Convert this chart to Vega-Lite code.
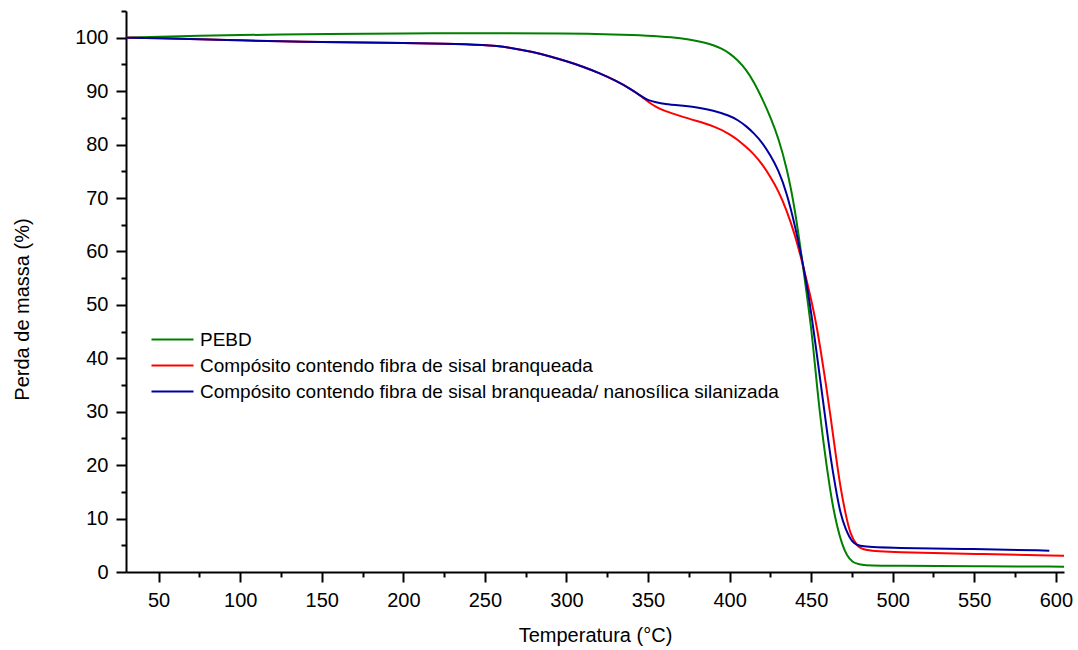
{
  "$schema": "https://vega.github.io/schema/vega-lite/v6.json",
  "width": 938,
  "height": 561,
  "autosize": {"type": "none"},
  "padding": {"left": 126, "top": 11, "right": 14, "bottom": 78},
  "background": "white",
  "config": {"view": {"stroke": null}, "font": "Liberation Sans"},
  "data": {"values": [
    {"s":"PEBD","T":30,"M":100.0},{"s":"PEBD","T":50,"M":100.2},{"s":"PEBD","T":75,"M":100.35},{"s":"PEBD","T":100,"M":100.5},{"s":"PEBD","T":125,"M":100.6},{"s":"PEBD","T":150,"M":100.7},{"s":"PEBD","T":200,"M":100.8},{"s":"PEBD","T":250,"M":100.85},{"s":"PEBD","T":300,"M":100.8},{"s":"PEBD","T":330,"M":100.6},{"s":"PEBD","T":350,"M":100.4},{"s":"PEBD","T":365,"M":100.1},{"s":"PEBD","T":375,"M":99.7},{"s":"PEBD","T":385,"M":99.1},{"s":"PEBD","T":390,"M":98.6},{"s":"PEBD","T":395,"M":98.0},{"s":"PEBD","T":400,"M":97.1},{"s":"PEBD","T":405,"M":95.8},{"s":"PEBD","T":410,"M":94.1},{"s":"PEBD","T":415,"M":91.7},{"s":"PEBD","T":420,"M":88.6},{"s":"PEBD","T":425,"M":85.2},{"s":"PEBD","T":430,"M":81.2},{"s":"PEBD","T":435,"M":75.7},{"s":"PEBD","T":440,"M":68.2},{"s":"PEBD","T":445,"M":57.2},{"s":"PEBD","T":447,"M":52.7},{"s":"PEBD","T":450,"M":45.8},{"s":"PEBD","T":452,"M":39.8},{"s":"PEBD","T":455,"M":30.5},{"s":"PEBD","T":458,"M":23.2},{"s":"PEBD","T":460,"M":18.8},{"s":"PEBD","T":463,"M":12.7},{"s":"PEBD","T":466,"M":8.4},{"s":"PEBD","T":469,"M":5.1},{"s":"PEBD","T":472,"M":3.0},{"s":"PEBD","T":475,"M":1.9},{"s":"PEBD","T":480,"M":1.2},{"s":"PEBD","T":500,"M":1.15},{"s":"PEBD","T":550,"M":1.1},{"s":"PEBD","T":605,"M":1.0},
    {"s":"Compósito contendo fibra de sisal branqueada","T":30,"M":100.0},{"s":"Compósito contendo fibra de sisal branqueada","T":50,"M":99.9},{"s":"Compósito contendo fibra de sisal branqueada","T":75,"M":99.75},{"s":"Compósito contendo fibra de sisal branqueada","T":100,"M":99.5},{"s":"Compósito contendo fibra de sisal branqueada","T":125,"M":99.3},{"s":"Compósito contendo fibra de sisal branqueada","T":150,"M":99.2},{"s":"Compósito contendo fibra de sisal branqueada","T":175,"M":99.1},{"s":"Compósito contendo fibra de sisal branqueada","T":200,"M":99.0},{"s":"Compósito contendo fibra de sisal branqueada","T":225,"M":98.9},{"s":"Compósito contendo fibra de sisal branqueada","T":250,"M":98.65},{"s":"Compósito contendo fibra de sisal branqueada","T":265,"M":98.2},{"s":"Compósito contendo fibra de sisal branqueada","T":280,"M":97.3},{"s":"Compósito contendo fibra de sisal branqueada","T":290,"M":96.5},{"s":"Compósito contendo fibra de sisal branqueada","T":300,"M":95.6},{"s":"Compósito contendo fibra de sisal branqueada","T":310,"M":94.6},{"s":"Compósito contendo fibra de sisal branqueada","T":320,"M":93.4},{"s":"Compósito contendo fibra de sisal branqueada","T":330,"M":92.0},{"s":"Compósito contendo fibra de sisal branqueada","T":340,"M":90.3},{"s":"Compósito contendo fibra de sisal branqueada","T":347,"M":88.8},
    {"s":"Compósito contendo fibra de sisal branqueada","T":350,"M":88.0},{"s":"Compósito contendo fibra de sisal branqueada","T":355,"M":87.0},{"s":"Compósito contendo fibra de sisal branqueada","T":360,"M":86.3},{"s":"Compósito contendo fibra de sisal branqueada","T":370,"M":85.3},{"s":"Compósito contendo fibra de sisal branqueada","T":380,"M":84.4},{"s":"Compósito contendo fibra de sisal branqueada","T":390,"M":83.5},{"s":"Compósito contendo fibra de sisal branqueada","T":400,"M":82.0},{"s":"Compósito contendo fibra de sisal branqueada","T":405,"M":80.9},{"s":"Compósito contendo fibra de sisal branqueada","T":410,"M":79.6},{"s":"Compósito contendo fibra de sisal branqueada","T":415,"M":78.2},{"s":"Compósito contendo fibra de sisal branqueada","T":420,"M":76.3},{"s":"Compósito contendo fibra de sisal branqueada","T":425,"M":74.0},{"s":"Compósito contendo fibra de sisal branqueada","T":430,"M":71.3},{"s":"Compósito contendo fibra de sisal branqueada","T":435,"M":67.7},{"s":"Compósito contendo fibra de sisal branqueada","T":440,"M":63.2},{"s":"Compósito contendo fibra de sisal branqueada","T":445,"M":57.5},{"s":"Compósito contendo fibra de sisal branqueada","T":450,"M":51.0},{"s":"Compósito contendo fibra de sisal branqueada","T":453,"M":46.7},{"s":"Compósito contendo fibra de sisal branqueada","T":456,"M":41.2},{"s":"Compósito contendo fibra de sisal branqueada","T":459,"M":35.3},{"s":"Compósito contendo fibra de sisal branqueada","T":462,"M":28.9},{"s":"Compósito contendo fibra de sisal branqueada","T":465,"M":22.1},{"s":"Compósito contendo fibra de sisal branqueada","T":468,"M":15.7},{"s":"Compósito contendo fibra de sisal branqueada","T":471,"M":11.0},{"s":"Compósito contendo fibra de sisal branqueada","T":474,"M":7.0},{"s":"Compósito contendo fibra de sisal branqueada","T":478,"M":4.9},{"s":"Compósito contendo fibra de sisal branqueada","T":482,"M":4.0},{"s":"Compósito contendo fibra de sisal branqueada","T":500,"M":3.7},{"s":"Compósito contendo fibra de sisal branqueada","T":550,"M":3.4},{"s":"Compósito contendo fibra de sisal branqueada","T":605,"M":3.05},
    {"s":"Compósito contendo fibra de sisal branqueada/ nanosílica silanizada","T":30,"M":100.0},{"s":"Compósito contendo fibra de sisal branqueada/ nanosílica silanizada","T":50,"M":99.9},{"s":"Compósito contendo fibra de sisal branqueada/ nanosílica silanizada","T":75,"M":99.75},{"s":"Compósito contendo fibra de sisal branqueada/ nanosílica silanizada","T":100,"M":99.5},{"s":"Compósito contendo fibra de sisal branqueada/ nanosílica silanizada","T":125,"M":99.3},{"s":"Compósito contendo fibra de sisal branqueada/ nanosílica silanizada","T":150,"M":99.2},{"s":"Compósito contendo fibra de sisal branqueada/ nanosílica silanizada","T":175,"M":99.1},{"s":"Compósito contendo fibra de sisal branqueada/ nanosílica silanizada","T":200,"M":99.0},{"s":"Compósito contendo fibra de sisal branqueada/ nanosílica silanizada","T":225,"M":98.9},{"s":"Compósito contendo fibra de sisal branqueada/ nanosílica silanizada","T":250,"M":98.65},{"s":"Compósito contendo fibra de sisal branqueada/ nanosílica silanizada","T":265,"M":98.2},{"s":"Compósito contendo fibra de sisal branqueada/ nanosílica silanizada","T":280,"M":97.3},{"s":"Compósito contendo fibra de sisal branqueada/ nanosílica silanizada","T":290,"M":96.5},{"s":"Compósito contendo fibra de sisal branqueada/ nanosílica silanizada","T":300,"M":95.6},{"s":"Compósito contendo fibra de sisal branqueada/ nanosílica silanizada","T":310,"M":94.6},{"s":"Compósito contendo fibra de sisal branqueada/ nanosílica silanizada","T":320,"M":93.4},{"s":"Compósito contendo fibra de sisal branqueada/ nanosílica silanizada","T":330,"M":92.0},{"s":"Compósito contendo fibra de sisal branqueada/ nanosílica silanizada","T":340,"M":90.3},{"s":"Compósito contendo fibra de sisal branqueada/ nanosílica silanizada","T":347,"M":88.8},
    {"s":"Compósito contendo fibra de sisal branqueada/ nanosílica silanizada","T":350,"M":88.3},{"s":"Compósito contendo fibra de sisal branqueada/ nanosílica silanizada","T":355,"M":87.9},{"s":"Compósito contendo fibra de sisal branqueada/ nanosílica silanizada","T":360,"M":87.6},{"s":"Compósito contendo fibra de sisal branqueada/ nanosílica silanizada","T":370,"M":87.3},{"s":"Compósito contendo fibra de sisal branqueada/ nanosílica silanizada","T":380,"M":87.0},{"s":"Compósito contendo fibra de sisal branqueada/ nanosílica silanizada","T":390,"M":86.4},{"s":"Compósito contendo fibra de sisal branqueada/ nanosílica silanizada","T":400,"M":85.4},{"s":"Compósito contendo fibra de sisal branqueada/ nanosílica silanizada","T":405,"M":84.6},{"s":"Compósito contendo fibra de sisal branqueada/ nanosílica silanizada","T":410,"M":83.5},{"s":"Compósito contendo fibra de sisal branqueada/ nanosílica silanizada","T":415,"M":82.1},{"s":"Compósito contendo fibra de sisal branqueada/ nanosílica silanizada","T":420,"M":80.4},{"s":"Compósito contendo fibra de sisal branqueada/ nanosílica silanizada","T":425,"M":78.0},{"s":"Compósito contendo fibra de sisal branqueada/ nanosílica silanizada","T":430,"M":75.2},{"s":"Compósito contendo fibra de sisal branqueada/ nanosílica silanizada","T":435,"M":71.0},{"s":"Compósito contendo fibra de sisal branqueada/ nanosílica silanizada","T":440,"M":65.0},{"s":"Compósito contendo fibra de sisal branqueada/ nanosílica silanizada","T":445,"M":57.7},{"s":"Compósito contendo fibra de sisal branqueada/ nanosílica silanizada","T":448,"M":52.5},{"s":"Compósito contendo fibra de sisal branqueada/ nanosílica silanizada","T":450,"M":48.6},{"s":"Compósito contendo fibra de sisal branqueada/ nanosílica silanizada","T":453,"M":41.9},{"s":"Compósito contendo fibra de sisal branqueada/ nanosílica silanizada","T":456,"M":35.0},{"s":"Compósito contendo fibra de sisal branqueada/ nanosílica silanizada","T":459,"M":28.0},{"s":"Compósito contendo fibra de sisal branqueada/ nanosílica silanizada","T":462,"M":21.2},{"s":"Compósito contendo fibra de sisal branqueada/ nanosílica silanizada","T":465,"M":15.7},{"s":"Compósito contendo fibra de sisal branqueada/ nanosílica silanizada","T":468,"M":10.8},{"s":"Compósito contendo fibra de sisal branqueada/ nanosílica silanizada","T":471,"M":8.1},{"s":"Compósito contendo fibra de sisal branqueada/ nanosílica silanizada","T":475,"M":5.5},{"s":"Compósito contendo fibra de sisal branqueada/ nanosílica silanizada","T":480,"M":4.7},{"s":"Compósito contendo fibra de sisal branqueada/ nanosílica silanizada","T":500,"M":4.5},{"s":"Compósito contendo fibra de sisal branqueada/ nanosílica silanizada","T":550,"M":4.3},{"s":"Compósito contendo fibra de sisal branqueada/ nanosílica silanizada","T":596,"M":4.0}
  ]},
  "mark": {"type": "line", "strokeWidth": 2, "interpolate": "basis"},
  "encoding": {
    "x": {
      "field": "T", "type": "quantitative",
      "scale": {"domain": [30, 605], "nice": false, "zero": false},
      "axis": {
        "title": "Temperatura (°C)",
        "values": [50,75,100,125,150,175,200,225,250,275,300,325,350,375,400,425,450,475,500,525,550,575,600],
        "labelExpr": "datum.value % 50 === 0 ? datum.label : ''",
        "tickSize": {"condition": {"test": "datum.value % 50 === 0", "value": 10}, "value": 5},
        "grid": false, "domainColor": "black", "domainWidth": 2, "tickColor": "black", "tickWidth": 2,
        "labelFontSize": 20, "labelColor": "black", "labelPadding": 8, "labelOverlap": false, "labelFlush": false,
        "titleFontSize": 20, "titleFontWeight": "normal", "titleColor": "black", "titlePadding": 15
      }
    },
    "y": {
      "field": "M", "type": "quantitative",
      "scale": {"domain": [0, 105], "nice": false, "zero": false},
      "axis": {
        "title": "Perda de massa (%)",
        "values": [0,5,10,15,20,25,30,35,40,45,50,55,60,65,70,75,80,85,90,95,100,105],
        "labelExpr": "datum.value % 10 === 0 ? datum.label : ''",
        "tickSize": {"condition": {"test": "datum.value % 10 === 0", "value": 10}, "value": 5},
        "grid": false, "domainColor": "black", "domainWidth": 2, "tickColor": "black", "tickWidth": 2,
        "labelFontSize": 20, "labelColor": "black", "labelPadding": 8, "labelOverlap": false, "labelFlush": false,
        "titleFontSize": 20, "titleFontWeight": "normal", "titleColor": "black",
        "titleX": -94, "titleY": 298
      }
    },
    "color": {
      "field": "s", "type": "nominal",
      "scale": {
        "domain": ["PEBD", "Compósito contendo fibra de sisal branqueada", "Compósito contendo fibra de sisal branqueada/ nanosílica silanizada"],
        "range": ["#008000", "#FF0000", "#0000A0"]
      },
      "legend": {
        "title": null, "orient": "none", "legendX": 37, "legendY": 319,
        "symbolType": "M-3,0H3", "symbolSize": 196, "symbolStrokeWidth": 2,
        "labelFontSize": 19, "labelColor": "black", "labelOffset": 18, "rowPadding": 6,
        "padding": 0, "labelLimit": 1000
      }
    }
  }
}
